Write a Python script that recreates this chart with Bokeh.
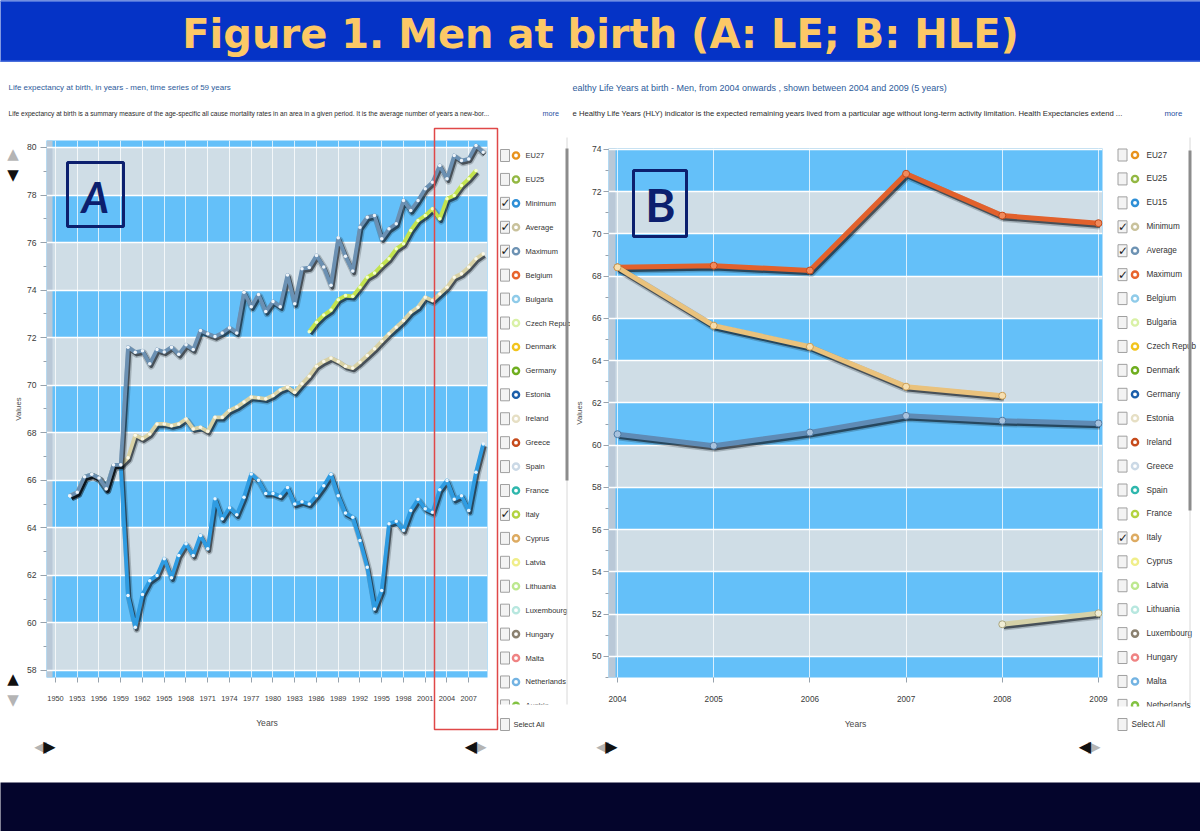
import math
import subprocess

from bokeh.core.properties import value
from bokeh.embed import file_html
from bokeh.layouts import column, row
from bokeh.models import ColumnDataSource, Range1d, SingleIntervalTicker
from bokeh.plotting import figure
from bokeh.resources import INLINE
from bokeh.transform import dodge

# ---------------------------------------------------------------- fonts
try:
    _fams = subprocess.run(["fc-list", ":", "family"], capture_output=True,
                           text=True, timeout=30).stdout
except Exception:
    _fams = ""
if "Liberation Sans Narrow" in _fams:
    NARROW, NF = "Liberation Sans Narrow", 1.0
else:
    NARROW, NF = "Liberation Sans", 0.82


def fs(px):
    return f"{px * NF:.1f}px"


# ---------------------------------------------------------------- data
TITLE = "Figure 1. Men at birth (A: LE; B: HLE)"

a_title = "Life expectancy at birth, in years - men, time series of 59 years"
a_desc = ("Life expectancy at birth is a summary measure of the age-specific all cause "
          "mortality rates in an area in a given period. It is the average number of years a new-bor...")
b_title = "ealthy Life Years  at birth - Men, from 2004 onwards  , shown between 2004 and 2009 (5 years)"
b_desc = ("e Healthy Life Years (HLY) indicator is the expected remaining years lived from a particular "
          "age without long-term activity limitation. Health Expectancies extend ...")

# Panel A: life expectancy at birth, men (years 1952-2009)
years_a = list(range(1952, 2010))
le_minimum = [65.35, 65.5, 66.15, 66.25, 66.1, 65.65, 66.65, 66.65,
              61.15, 59.82, 61.2, 61.78, 62.0, 62.7, 61.9, 62.84, 63.33, 62.84,
              63.68, 63.12, 65.22, 64.38, 64.85, 64.55, 65.29, 66.27, 66.0, 65.45,
              65.45, 65.33, 65.7, 65.0, 65.1, 65.0, 65.35, 65.77, 66.26, 65.35,
              64.62, 64.45, 63.47, 62.34, 60.59, 61.36, 64.17, 64.28, 63.9, 64.73,
              65.2, 64.8, 64.66, 65.6, 65.99, 65.2, 65.35, 64.73, 66.34, 67.53]
le_average = [65.35, 65.5, 66.15, 66.25, 66.1, 65.65, 66.65, 66.65,
              66.95, 67.9, 67.75, 67.95, 68.37, 68.37, 68.3, 68.37, 68.58, 68.16,
              68.23, 68.06, 68.65, 68.65, 68.94, 69.08, 69.29, 69.5, 69.47, 69.43,
              69.57, 69.8, 69.92, 69.7, 70.06, 70.38, 70.8, 71.0, 71.15, 71.0,
              70.8, 70.72, 70.97, 71.25, 71.53, 71.85, 72.16, 72.44, 72.72, 73.07,
              73.28, 73.7, 73.56, 73.84, 74.12, 74.54, 74.69, 74.97, 75.32, 75.53]
le_maximum = [65.35, 65.5, 66.15, 66.25, 66.1, 65.65, 66.65, 66.65,
              71.6, 71.39, 71.45, 70.9, 71.5, 71.4, 71.6, 71.3, 71.7, 71.5,
              72.3, 72.16, 72.05, 72.2, 72.42, 72.2, 73.91, 73.3, 73.82, 73.1,
              73.52, 73.3, 74.64, 73.43, 74.9, 74.95, 75.46, 74.97, 74.2, 76.2,
              75.43, 74.8, 76.65, 77.07, 77.14, 76.16, 76.58, 76.79, 77.77, 77.35,
              77.77, 78.26, 78.54, 79.24, 78.68, 79.66, 79.45, 79.52, 80.08, 79.8]
years_italy_a = list(range(1985, 2009))
le_italy = [72.25, 72.65, 72.95, 73.16, 73.6, 73.77, 73.74, 74.12, 74.54, 74.72,
            75.04, 75.32, 75.74, 75.95, 76.51, 76.93, 77.14, 77.42, 77.0, 77.84,
            77.98, 78.4, 78.68, 79.03]

# Panel B: healthy life years at birth, men (2004-2009)
years_b = [2004, 2005, 2006, 2007, 2008, 2009]
hly_maximum = [68.42, 68.5, 68.27, 72.85, 70.87, 70.51]
hly_average = [60.52, 59.97, 60.6, 61.39, 61.16, 61.03]
years_b_italy = [2004, 2005, 2006, 2007, 2008]
hly_italy = [68.42, 65.66, 64.66, 62.77, 62.34]
years_b_minimum = [2008, 2009]
hly_minimum = [51.52, 52.04]

# legend lists (series selector)
legend_a = ["EU27", "EU25", "Minimum", "Average", "Maximum", "Belgium", "Bulgaria",
            "Czech Repub", "Denmark", "Germany", "Estonia", "Ireland", "Greece", "Spain",
            "France", "Italy", "Cyprus", "Latvia", "Lithuania", "Luxembourg", "Hungary",
            "Malta", "Netherlands", "Austria"]
legend_b = ["EU27", "EU25", "EU15", "Minimum", "Average", "Maximum", "Belgium", "Bulgaria",
            "Czech Repub", "Denmark", "Germany", "Estonia", "Ireland", "Greece", "Spain",
            "France", "Italy", "Cyprus", "Latvia", "Lithuania", "Luxembourg", "Hungary",
            "Malta", "Netherlands"]
checked_series = ["Minimum", "Average", "Maximum", "Italy"]
palette = ["#e8921c", "#93b843", "#2e8fd6", "#c9c29c", "#6d92b3", "#e8642c", "#8fcbe9",
           "#d9f1a6", "#f2c41c", "#6fae1f", "#1b5eaa", "#e6dfc4", "#c64b1c", "#cbd9e6",
           "#2fb7ad", "#b3d33f", "#ddab62", "#f0ee8a", "#bde88f", "#b7e7df", "#8b8170",
           "#ef8383", "#73b3e2", "#82c241"]

# ---------------------------------------------------------------- style
BLUE_BAND = "#64c0f9"
GREY_BAND = "#cfdde6"
STRIP = "#b9c8d7"
NAVY = "#0c1f6e"
OY = 62
MID_H = 720
PXSCALE = {}


def make_panel(ox, width, frame, xr, yr, xint, xfont, ystand, ytick_out, ylab_stand, strip_px):
    fl, fr, ft, fb = frame
    p = figure(width=width, height=MID_H, x_range=Range1d(*xr), y_range=Range1d(*yr),
               output_backend="svg", toolbar_location=None, title=None,
               min_border_left=fl - ox, min_border_right=ox + width - fr,
               min_border_top=ft - OY, min_border_bottom=OY + MID_H - fb,
               background_fill_color=BLUE_BAND, border_fill_color="white",
               outline_line_color=None, frame_align=False)
    p.extra_x_ranges = {"px": Range1d(fl, fr)}
    p.extra_y_ranges = {"py": Range1d(fb, ft)}
    xpx = (xr[1] - xr[0]) / (fr - fl)
    ypx = (yr[1] - yr[0]) / (fb - ft)
    PXSCALE[id(p)] = (xpx, ypx)

    g0 = math.floor(yr[0] / 4) * 4 + 2
    gb = list(range(g0, int(yr[1]) + 1, 4))
    p.quad(left=xr[0], right=xr[1], bottom=gb, top=[b + 2 for b in gb],
           fill_color=GREY_BAND, line_color=None, level="image")
    p.quad(left=xr[0], right=xr[0] + strip_px * xpx, bottom=yr[0], top=yr[1],
           fill_color=STRIP, line_color=None, level="image")

    p.xgrid.grid_line_color = "white"
    p.xgrid.grid_line_alpha = 0.75
    p.ygrid.grid_line_color = "white"
    p.ygrid.grid_line_width = 1.5

    xa, ya = p.xaxis[0], p.yaxis[0]
    xa.ticker = SingleIntervalTicker(interval=xint, num_minor_ticks=0)
    ya.ticker = SingleIntervalTicker(interval=2, num_minor_ticks=2)
    for a in (xa, ya):
        a.axis_line_color = None
        a.major_tick_line_color = "#98a2ac"
        a.minor_tick_line_color = "#98a2ac"
        a.major_tick_in = 0
        a.minor_tick_in = 0
        a.major_label_text_font = NARROW
        a.major_label_text_color = "#3a3a3a"
        a.axis_label_text_font = NARROW
        a.axis_label_text_font_style = "normal"
        a.axis_label_text_color = "#4a4a4a"
    xa.major_tick_out = 5
    xa.minor_tick_out = 0
    xa.major_label_standoff = 13
    xa.major_label_text_font_size = fs(xfont)
    xa.axis_label = "Years"
    xa.axis_label_text_font_size = fs(10.5)
    xa.axis_label_standoff = 14
    ya.major_tick_out = ytick_out
    ya.minor_tick_out = 3
    ya.major_label_standoff = ystand
    ya.major_label_text_font_size = fs(10.5)
    ya.axis_label = "Values"
    ya.axis_label_text_font_size = fs(9.5)
    ya.axis_label_standoff = ylab_stand
    return p


def add_series(p, xs, ys, color, dot_fill, dot_line, lw, dot_size):
    xpx, ypx = PXSCALE[id(p)]
    src = ColumnDataSource(dict(x=xs, y=ys))
    sx, sy = 1.5 * xpx, -2.3 * ypx
    p.line(x=dodge("x", sx), y=dodge("y", sy), source=src, line_color="#0a1018",
           line_alpha=0.22, line_width=lw + 3, line_join="round")
    p.line(x=dodge("x", sx), y=dodge("y", sy), source=src, line_color="#0a1018",
           line_alpha=0.6, line_width=lw, line_join="round")
    p.line(x="x", y="y", source=src, line_color=color, line_width=lw, line_join="round")
    p.scatter(x="x", y="y", source=src, size=dot_size, fill_color=dot_fill,
              line_color=dot_line, line_width=1 if dot_line else 0)


def deco_text(p, xs, ys, texts, font, size, color, align="left", style="normal"):
    p.text(x=xs, y=ys, text=texts, text_font=value(font), text_font_size=size,
           text_color=color, text_align=align, text_baseline="middle",
           text_font_style=style, x_range_name="px", y_range_name="py", level="overlay")


def deco_box(p, l, r, t, b, fill=None, line=None, lw=1.0):
    p.quad(left=l, right=r, top=t, bottom=b, fill_color=fill, line_color=line,
           line_width=lw, x_range_name="px", y_range_name="py", level="overlay")


def draw_legend(p, names, xb, xr_, xt, y0, dy, cover, xsel, scroll, tsize):
    n = len(names)
    ys = [y0 + i * dy for i in range(n)]
    p.rect(x=xb, y=ys, width=9, height=12, fill_color="#f3f3f3", line_color="#a0a0a0",
           line_width=1, x_range_name="px", y_range_name="py", level="overlay")
    p.ellipse(x=xr_, y=ys, width=6.2, height=6.2, fill_color="white",
              line_color=palette[:n], line_width=2.4,
              x_range_name="px", y_range_name="py", level="overlay")
    deco_text(p, [xt] * n, ys, names, NARROW, fs(tsize), "#333333")
    cy = [ys[i] for i, nm in enumerate(names) if nm in checked_series]
    deco_text(p, [xb + 0.5] * len(cy), cy, ["\u2713"] * len(cy), "DejaVu Sans", "12px",
              "#1a1a1a", align="center")
    cl, cr, ct = cover
    deco_box(p, cl, cr, ct, ct + 12, fill="white")
    p.rect(x=xb, y=724, width=9, height=12, fill_color="#f3f3f3", line_color="#a0a0a0",
           line_width=1, x_range_name="px", y_range_name="py", level="overlay")
    deco_text(p, [xsel], [724], ["Select All"], NARROW, fs(tsize), "#333333")
    sx, st, sb = scroll
    p.segment(x0=sx, y0=137, x1=sx, y1=704, line_color="#d8d8d8", line_width=1,
              x_range_name="px", y_range_name="py", level="overlay")
    deco_box(p, sx - 1.5, sx + 1.5, st, sb, fill="#8c8c8c")


# ---------------------------------------------------------------- panel A
pA = make_panel(0, 570, (46, 487, 140, 677), (1948.76, 2009.59), (57.705, 80.294),
                3, 9, 4, 6, 1, 6)
add_series(pA, years_a, le_minimum, "#2f9ce2", "#eaf6ff", None, 3.8, 3.5)
add_series(pA, years_a, le_average, "#d9d2a6", "#fbf8e8", None, 3.8, 3.5)
add_series(pA, years_italy_a, le_italy, "#c3e34f", "#f4ffc8", None, 3.8, 3.5)
add_series(pA, years_a, le_maximum, "#6b90b2", "#eef4fa", None, 3.8, 3.5)

deco_text(pA, [8], [87], [a_title], NARROW, fs(9.8), "#2d5b9b")
deco_text(pA, [8], [113], [a_desc], NARROW, fs(8.1), "#2a2a2a")
deco_text(pA, [542], [113], ["more"], NARROW, fs(8.8), "#1f4f9f")
deco_box(pA, 67, 123, 162, 226, line=NAVY, lw=3)
deco_text(pA, [95], [196], ["A"], "Lato", "42px", NAVY, align="center", style="bold italic")
deco_box(pA, 434, 497, 128, 729, line="#e04848", lw=1.5)
draw_legend(pA, legend_a, 504.5, 515.5, 525, 155, 23.93, (498, 563, 704), 513,
            (566.5, 148, 480), 9.2)
deco_text(pA, [40, 480], [746, 746], ["\u25C0", "\u25B6"],
          "DejaVu Sans", "16px", "#b4b4b4", align="center")
deco_text(pA, [49, 470.5], [746, 746], ["\u25B6", "\u25C0"], "DejaVu Sans", "16px",
          "#111111", align="center")
deco_text(pA, [12.5, 12.5], [153, 699], ["\u25B2", "\u25BC"], "DejaVu Sans", "15px",
          "#b4b4b4", align="center")
deco_text(pA, [12.5, 12.5], [174, 678], ["\u25BC", "\u25B2"], "DejaVu Sans", "15px",
          "#111111", align="center")

# ---------------------------------------------------------------- panel B
pB = make_panel(570, 630, (608, 1102, 148, 677), (2003.906, 2009.042), (49.0, 74.047),
                1, 10, 2, 5, 5, 7)
add_series(pB, years_b, hly_average, "#5f8bb5", "#a9c3de", "#4f7aa3", 5, 7)
add_series(pB, years_b_minimum, hly_minimum, "#d6d2a8", "#f1eed6", "#aaa680", 5, 7)
add_series(pB, years_b, hly_maximum, "#e2612c", "#f18a5c", "#c24a1a", 5, 7)
add_series(pB, years_b_italy, hly_italy, "#eac27c", "#f7dfb0", "#c99d55", 5, 7)

deco_text(pB, [572], [87], [b_title], NARROW, fs(11.0), "#2d5b9b")
deco_text(pB, [572], [113], [b_desc], NARROW, fs(9.4), "#2a2a2a")
deco_text(pB, [1164], [113], ["more"], NARROW, fs(9.5), "#1f4f9f")
deco_box(pB, 633, 686, 170, 236, line=NAVY, lw=3)
deco_text(pB, [660], [204], ["B"], "Lato", "46px", NAVY, align="center", style="bold")
draw_legend(pB, legend_b, 1122, 1134.5, 1146, 154.5, 23.93, (1114, 1186, 706), 1131,
            (1189.5, 150, 510), 10.0)
deco_text(pB, [602, 1094], [746, 746], ["\u25C0", "\u25B6"], "DejaVu Sans", "16px",
          "#b4b4b4", align="center")
deco_text(pB, [611, 1084.5], [746, 746], ["\u25B6", "\u25C0"], "DejaVu Sans", "16px",
          "#111111", align="center")

# ---------------------------------------------------------------- banner / footer
banner = figure(width=1200, height=62, x_range=Range1d(0, 1200), y_range=Range1d(62, 0),
                output_backend="svg", toolbar_location=None, title=None,
                x_axis_location=None, y_axis_location=None, min_border=0,
                background_fill_color="#0533c6", border_fill_color="#0533c6",
                outline_line_color=None)
banner.grid.visible = False
banner.quad(left=0, right=1200, top=[0, 60], bottom=[1.5, 62], fill_color="#4a6fdc",
            line_color=None)
banner.text(x=[600], y=[33], text=[TITLE], text_font=value("DejaVu Sans"),
            text_font_style="bold", text_font_size="40px", text_color="#fcc866",
            text_align="center", text_baseline="middle")

footer = figure(width=1200, height=49, x_range=Range1d(0, 1), y_range=Range1d(0, 1),
                output_backend="svg", toolbar_location=None, title=None,
                x_axis_location=None, y_axis_location=None, min_border=0,
                background_fill_color="#04052c", border_fill_color="#04052c",
                outline_line_color=None)
footer.grid.visible = False

layout = column(banner, row(pA, pB), footer)
open("out.html", "w").write(file_html(layout, INLINE))
